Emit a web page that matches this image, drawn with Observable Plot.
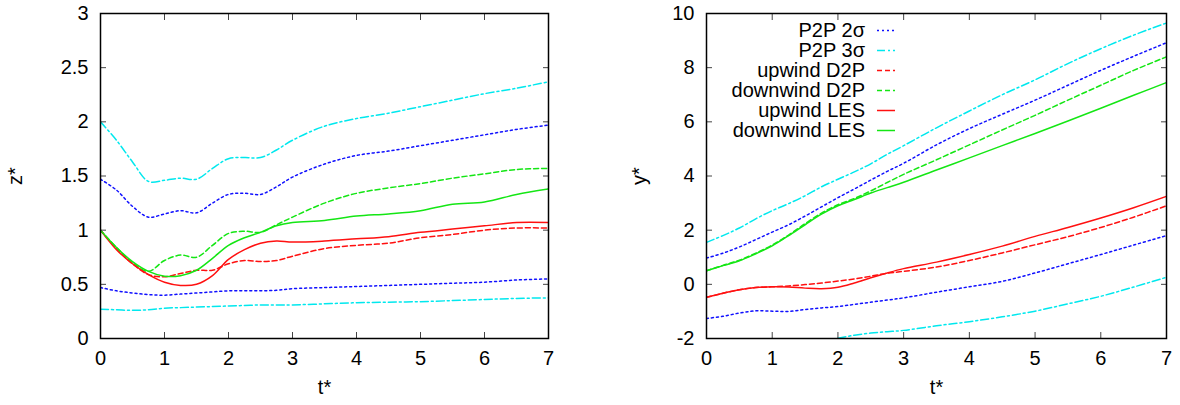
<!DOCTYPE html>
<html><head><meta charset="utf-8">
<script src="https://cdn.jsdelivr.net/npm/d3@7"></script>
<script src="https://cdn.jsdelivr.net/npm/@observablehq/plot@0.6"></script>
<style>
body{margin:0;background:#fff;font-family:"Liberation Sans",Arial,sans-serif;}
#wrap{position:relative;width:1180px;height:405px;display:flex;}
#legend{position:absolute;left:0;top:0;width:1180px;height:0;}
.row{position:absolute;height:20px;display:flex;align-items:center;font-size:20px;color:#000;white-space:nowrap;}
.row span{display:inline-block;text-align:right;}
</style></head><body><div id="wrap"></div><div id="legend"></div>
<script>
// time grid (t*)
const t = [0,0.25,0.5,0.75,1,1.25,1.5,1.75,2,2.25,2.5,2.75,3,3.5,4,4.5,5,5.5,6,6.5,7];
const xTicks = [0,1,2,3,4,5,6,7];

// Left panel: z*
const zTicks = [0,0.5,1,1.5,2,2.5,3];
const zP2P2Upper = [1.47,1.37,1.22,1.12,1.15,1.18,1.16,1.25,1.33,1.34,1.33,1.40,1.49,1.61,1.69,1.73,1.78,1.83,1.88,1.93,1.97];
const zP2P3Upper = [2.0,1.83,1.63,1.45,1.46,1.48,1.47,1.57,1.66,1.67,1.67,1.74,1.83,1.96,2.03,2.08,2.14,2.20,2.26,2.31,2.37];
const zP2P2Lower = [0.47,0.44,0.42,0.405,0.40,0.41,0.42,0.43,0.44,0.44,0.44,0.445,0.46,0.47,0.48,0.49,0.50,0.51,0.52,0.54,0.55];
const zP2P3Lower = [0.27,0.265,0.26,0.265,0.28,0.285,0.29,0.295,0.30,0.305,0.31,0.31,0.31,0.32,0.33,0.335,0.34,0.35,0.36,0.37,0.375];
const zUpD2P    = [1.0,0.83,0.69,0.59,0.57,0.60,0.63,0.63,0.69,0.72,0.71,0.72,0.76,0.83,0.86,0.88,0.93,0.96,1.00,1.02,1.02];
const zDownD2P  = [1.0,0.84,0.70,0.62,0.72,0.77,0.75,0.86,0.97,0.99,0.98,1.05,1.12,1.25,1.34,1.39,1.43,1.48,1.52,1.56,1.57];
const zUpLES    = [1.0,0.82,0.69,0.59,0.52,0.49,0.50,0.58,0.73,0.82,0.88,0.90,0.89,0.90,0.92,0.94,0.98,1.01,1.04,1.07,1.07];
const zDownLES  = [1.0,0.84,0.71,0.62,0.575,0.58,0.63,0.74,0.86,0.93,0.98,1.04,1.07,1.09,1.13,1.15,1.18,1.24,1.26,1.33,1.38];

// Right panel: y*
const yTicks = [-2,0,2,4,6,8,10];
const yP2P2Upper = [0.97,1.15,1.38,1.65,1.93,2.2,2.52,2.86,3.2,3.52,3.85,4.17,4.47,5.15,5.75,6.28,6.8,7.35,7.9,8.42,8.92];
const yP2P3Upper = [1.55,1.8,2.08,2.42,2.72,2.98,3.27,3.6,3.88,4.15,4.45,4.8,5.12,5.78,6.4,7.0,7.55,8.15,8.7,9.2,9.65];
const yP2P2Lower = [-1.26,-1.18,-1.06,-0.98,-0.99,-1.0,-0.93,-0.87,-0.82,-0.74,-0.66,-0.58,-0.5,-0.29,-0.09,0.11,0.42,0.76,1.1,1.45,1.8];
const yP2P3Lower = [null,null,null,null,null,null,null,null,-1.99,-1.88,-1.8,-1.75,-1.70,-1.53,-1.38,-1.2,-0.99,-0.72,-0.44,-0.1,0.26];
const yUpD2P    = [-0.48,-0.33,-0.2,-0.12,-0.09,-0.06,-0.01,0.05,0.12,0.2,0.3,0.41,0.48,0.64,0.88,1.16,1.46,1.76,2.1,2.48,2.9];
const yDownD2P  = [0.5,0.70,0.89,1.15,1.45,1.82,2.24,2.63,2.94,3.17,3.45,3.76,4.06,4.6,5.15,5.7,6.24,6.8,7.35,7.9,8.4];
const yUpLES    = [-0.48,-0.33,-0.2,-0.12,-0.09,-0.1,-0.14,-0.16,-0.11,0.05,0.24,0.42,0.58,0.82,1.1,1.41,1.77,2.1,2.45,2.83,3.25];
const yDownLES  = [0.5,0.69,0.87,1.13,1.42,1.8,2.2,2.59,2.9,3.13,3.37,3.57,3.77,4.22,4.67,5.12,5.57,6.03,6.5,6.98,7.45];

const legendNames = ["P2P 2σ","P2P 3σ","upwind D2P","downwind D2P","upwind LES","downwind LES"];

// styles
const BLUE="#1010ff", CYAN="#00e8ee", RED="#ff1010", GREEN="#14e614";
const styleOf = {
  "P2P 2σ":{stroke:BLUE, dash:"2,3"},
  "P2P 3σ":{stroke:CYAN, dash:"8,3,2,3"},
  "upwind D2P":{stroke:RED, dash:"5,3"},
  "downwind D2P":{stroke:GREEN, dash:"5,3"},
  "upwind LES":{stroke:RED, dash:null},
  "downwind LES":{stroke:GREEN, dash:null}
};

const FONT = "'Liberation Sans', Arial, Helvetica, sans-serif";

function lineMark(values, name) {
  const s = styleOf[name];
  return Plot.line(t.map((tt,i)=>({t:tt, v:values[i]})), {
    x:"t", y:"v", stroke:s.stroke, strokeWidth:1.5, strokeDasharray:s.dash,
    curve:"catmull-rom", clip:true
  });
}

function panel({series, domain, ticks, label, ml, mr, lo}) {
  return Plot.plot({
    width:590, height:405, marginLeft:ml, marginRight:mr, marginTop:13, marginBottom:67,
    style:{fontFamily:FONT, fontSize:"20px", background:"white", color:"black"},
    x:{domain:[0,7]},
    y:{domain},
    marks:[
      ...series.map(([vals,name])=>lineMark(vals,name)),
      Plot.axisX({ticks:xTicks, tickSize:0, tickPadding:12, fontSize:20, label:"t*", labelAnchor:"center", labelArrow:"none", labelOffset:55, tickFormat:d=>String(d)}),
      Plot.axisX({ticks:xTicks, anchor:"bottom", tickSize:-6, tickFormat:()=>"" , label:null, stroke:"#444"}),
      Plot.axisX({ticks:xTicks, anchor:"top", tickSize:-6, tickFormat:()=>"", label:null, stroke:"#444"}),
      Plot.axisY({ticks, tickSize:0, tickPadding:12, fontSize:20, label, labelAnchor:"center", labelArrow:"none", labelOffset:lo, tickFormat:d=>String(d)}),
      Plot.axisY({ticks, anchor:"left", tickSize:-6, tickFormat:()=>"", label:null, stroke:"#444"}),
      Plot.axisY({ticks, anchor:"right", tickSize:-6, tickFormat:()=>"", label:null, stroke:"#444"}),
      Plot.frame({stroke:"black", strokeWidth:1.5})
    ]
  });
}

const left = panel({
  series:[[zP2P2Upper,"P2P 2σ"],[zP2P2Lower,"P2P 2σ"],[zP2P3Upper,"P2P 3σ"],[zP2P3Lower,"P2P 3σ"],
          [zUpD2P,"upwind D2P"],[zDownD2P,"downwind D2P"],[zUpLES,"upwind LES"],[zDownLES,"downwind LES"]],
  domain:[0,3], ticks:zTicks, label:"z*", ml:100, mr:42, lo:93
});
const right = panel({
  series:[[yP2P2Upper,"P2P 2σ"],[yP2P2Lower,"P2P 2σ"],[yP2P3Upper,"P2P 3σ"],[yP2P3Lower,"P2P 3σ"],
          [yUpD2P,"upwind D2P"],[yDownD2P,"downwind D2P"],[yUpLES,"upwind LES"],[yDownLES,"downwind LES"]],
  domain:[-2,10], ticks:yTicks, label:"y*", ml:116, mr:14, lo:75
});
document.getElementById("wrap").append(left, right);

// legend (inside right panel, top-left)
const leg = document.getElementById("legend");
legendNames.forEach((name,i)=>{
  const s = styleOf[name];
  const row = document.createElement("div");
  row.className = "row";
  row.style.left = "700px";
  row.style.top = (20 + i*20) + "px";
  const span = document.createElement("span");
  span.style.width = "165px";
  span.textContent = name;
  row.append(span);
  const svg = d3.create("svg").attr("width",34).attr("height",20);
  svg.append("line").attr("x1",12).attr("x2",30).attr("y1",10.5).attr("y2",10.5)
    .attr("stroke",s.stroke).attr("stroke-width",1.5).attr("stroke-dasharray",s.dash);
  row.append(svg.node());
  leg.append(row);
});
</script></body></html>
